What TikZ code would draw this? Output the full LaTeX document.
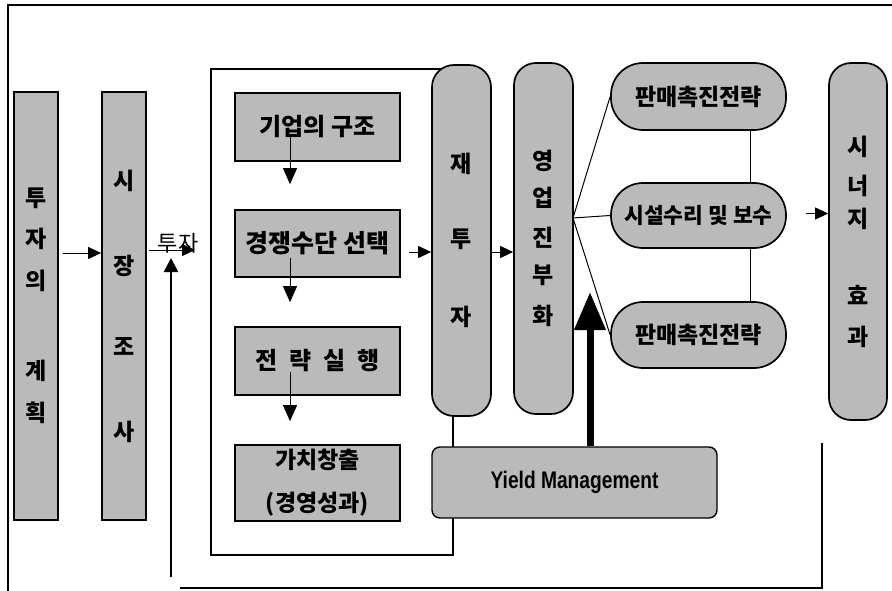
\documentclass[tikz,border=0pt]{standalone}
\usepackage{fontspec}
\usepackage{graphicx}
\setmainfont{Noto Sans CJK KR}
\newfontfamily\latinfont{Liberation Sans}
\usetikzlibrary{arrows.meta,calc}
\definecolor{boxgray}{gray}{0.73}
\begin{document}
\begin{tikzpicture}[x=1pt,y=-1pt,
  box/.style={draw=black,line width=1.7pt,fill=boxgray,inner sep=0pt,align=center,
              font=\bfseries\fontsize{24}{24}\selectfont},
  vbox/.style={box,font=\bfseries\fontsize{23}{23}\selectfont},
  vpill/.style={vbox,rounded corners=22pt},
  hpill/.style={box,rounded corners=32pt,font=\bfseries\fontsize{23}{23}\selectfont},
  arr/.style={line width=1pt,-{Triangle[length=13pt,width=12pt]}},
  darr/.style={line width=1pt,-{Triangle[length=16pt,width=14pt]}},
  conn/.style={line width=1pt},
  frame/.style={line width=2.2pt}
]
\useasboundingbox (0,0) rectangle (892,591);

% outer frame
\coordinate (otr) at (892,5);
\coordinate (otl) at (8,5);
\coordinate (obl) at (8,591);
\draw[frame,line width=2.5pt] (otr) -- (otl) -- (obl);

% inner frame
\coordinate (itl) at (211,69);
\coordinate (ibr) at (453,555);
\draw[frame] (itl) rectangle (ibr);

% left column boxes
\node[vbox,minimum width=44pt,minimum height=428pt] (plan) at (36,306)
  {투\\[18pt]자\\[19pt]의\\[67pt]계\\[19pt]획};
\node[vbox,minimum width=44pt,minimum height=428pt] (survey) at (124,306)
  {시\\[62pt]장\\[58pt]조\\[62pt]사};

% inner boxes
\node[box,minimum width=165pt,minimum height=68pt] (b1) at (317.5,127) {기업의 구조};
\node[box,minimum width=165pt,minimum height=67pt,font=\bfseries\fontsize{25}{25}\selectfont] (b2) at (317.5,243.5) {경쟁수단 선택};
\node[box,minimum width=165pt,minimum height=68pt] (b3) at (317.5,361) {전\hspace{12pt}략\hspace{12pt}실\hspace{12pt}행};
\node[box,minimum width=165pt,minimum height=76pt,font=\bfseries\fontsize{23}{23}\selectfont] (b4) at (317.5,483) {가치창출\\[20pt](경영성과)};

% pills
\node[vpill,minimum width=59pt,minimum height=351pt] (jt) at (461.5,240.5)
  {재\\[52pt]투\\[55pt]자};
\node[vpill,minimum width=59pt,minimum height=351pt] (ey) at (543.5,238.5)
  {영\\[14pt]업\\[17pt]진\\[14pt]부\\[18pt]화};
\node[hpill,minimum width=175pt,minimum height=67pt] (p1) at (698.5,96.5) {판매촉진전략};
\node[hpill,minimum width=175pt,minimum height=65pt,font=\bfseries\fontsize{21.5}{21.5}\selectfont] (p2) at (698.5,215.5) {시설수리 및 보수};
\node[hpill,minimum width=175pt,minimum height=66pt] (p3) at (698.5,335) {판매촉진전략};
\node[vpill,minimum width=58pt,minimum height=357pt] (syn) at (858,241.5)
  {시\\[16pt]너\\[10pt]지\\[54pt]효\\[18pt]과};

% yield management
\node[box,line width=1.4pt,rounded corners=8pt,minimum width=285pt,minimum height=71pt,
      font=\latinfont\bfseries\fontsize{24}{24}\selectfont] (ym) at (574.5,482.5)
  {\scalebox{0.8}[1]{Yield Management}};

% left arrows
\draw[arr] ([xshift=4pt,yshift=53pt]plan.east) -- ([yshift=53pt]plan.east -| survey.west);
\node[font=\fontsize{22}{22}\selectfont,inner sep=0pt] (invlbl) at (178,243) {투자};
\coordinate (invtip) at (195,250);
\draw[arr] ([xshift=2pt,yshift=56pt]survey.east) -- (invtip);

% feedback
\coordinate (fbstart) at (171,577);
\coordinate (fbtip) at (171,258);
\draw[line width=2.5pt,-{Triangle[length=14pt,width=14pt]}] (fbstart) -- (fbtip);
\coordinate (fb1) at (180,588);
\coordinate (fb2) at (822,588);
\coordinate (fb3) at (822,443);
\draw[line width=2pt] (fb1) -- (fb2) -- (fb3);

% inner down arrows
\draw[darr] ([xshift=-27.5pt,yshift=-10pt]b1.center) -- ([xshift=-27.5pt,yshift=25pt]b2.north);
\draw[darr] ([xshift=-27.5pt,yshift=-14.5pt]b2.center) -- ([xshift=-27.5pt,yshift=24pt]b3.north);
\draw[darr] ([xshift=-27.5pt,yshift=-11pt]b3.center) -- ([xshift=-27.5pt,yshift=23pt]b4.north);

% to reinvestment
\draw[arr] ([xshift=8pt,yshift=-8.5pt]b2.east) -- ([yshift=-8.5pt]b2.east -| jt.west);
\draw[arr] ([yshift=-11.5pt]jt.east) -- ([yshift=-11.5pt]jt.east -| ey.west);

% fan
\coordinate (fan) at (573,218);
\draw[conn] (fan) -- (p1.west);
\draw[conn] (fan) -- (p2.west);
\draw[conn] (fan) -- (p3.west);
\draw[conn] ([xshift=51.5pt]p1.south) -- ([xshift=51.5pt]p2.north);
\draw[conn] ([xshift=51.5pt]p2.south) -- ([xshift=51.5pt]p3.north);

% to synergy
\draw[arr] ([xshift=19pt,yshift=2pt]p2.east) -- ([yshift=2pt]p2.east -| syn.west);

% thick arrow
\coordinate (ymtip) at (590,292);
\draw[line width=7pt,-{Triangle[length=38pt,width=30pt]}] ([xshift=15.5pt]ym.north) -- (ymtip);
\end{tikzpicture}
\end{document}
